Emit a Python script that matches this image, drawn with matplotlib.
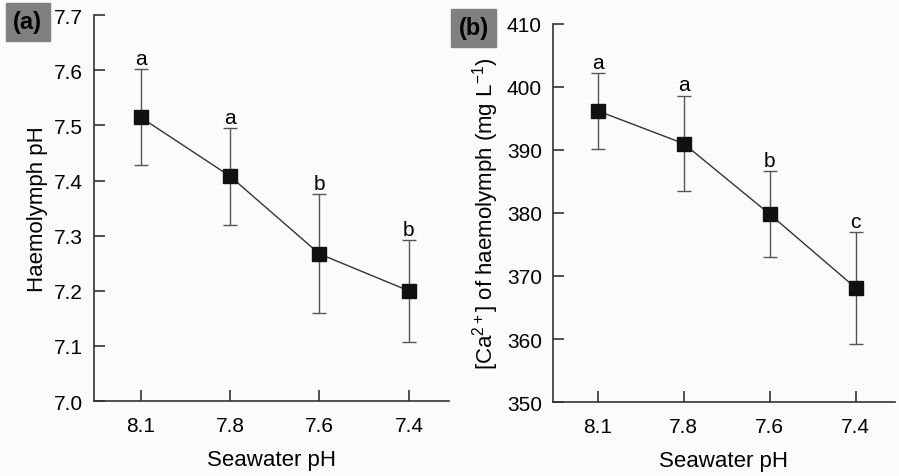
import matplotlib
matplotlib.use("Agg")
import matplotlib.pyplot as plt

plt.rcParams['font.family'] = ['Liberation Sans', 'DejaVu Sans']
plt.rcParams['mathtext.fontset'] = 'custom'
plt.rcParams['mathtext.rm'] = 'Liberation Sans'
plt.rcParams['mathtext.it'] = 'Liberation Sans'
plt.rcParams['mathtext.default'] = 'regular'

categories = ["8.1", "7.8", "7.6", "7.4"]

ph_mean = [7.515, 7.408, 7.267, 7.200]
ph_err = [0.087, 0.088, 0.108, 0.092]
ph_letters = ["a", "a", "b", "b"]

ca_mean = [396.2, 391.0, 379.8, 368.1]
ca_err = [6.0, 7.6, 6.8, 8.9]
ca_letters = ["a", "a", "b", "c"]

ph_ticks = [7.0, 7.1, 7.2, 7.3, 7.4, 7.5, 7.6, 7.7]
ca_ticks = [350, 360, 370, 380, 390, 400, 410]

bg = "#fbfbfb"
fig = plt.figure(figsize=(8.99, 4.77), dpi=100, facecolor=bg)

ax1 = fig.add_axes([0.1046, 0.157, 0.395, 0.809])
ax2 = fig.add_axes([0.615, 0.155, 0.38, 0.793])

def draw(ax, mean, err, letters, ticks, ylim, ylabel, offset):
    x = list(range(len(categories)))
    ax.set_facecolor(bg)
    ax.plot(x, mean, color="#333333", lw=1.0, zorder=2)
    ax.errorbar(x, mean, yerr=err, fmt="none", ecolor="#555555",
                elinewidth=1.0, capsize=4.7, capthick=1.0, zorder=1)
    ax.plot(x, mean, ls="none", marker="s", ms=10, color="#111111", zorder=3)
    for xi, m, e, l in zip(x, mean, err, letters):
        ax.text(xi, m + e + offset, l, ha="center", va="bottom", fontsize=15)
    ax.set_xticks(x)
    ax.set_xticklabels(categories)
    ax.set_xlim(-0.52, 3.45)
    ax.set_ylim(*ylim)
    ax.set_yticks(ticks)
    ax.set_xlabel("Seawater pH", fontsize=16, labelpad=10)
    ax.set_ylabel(ylabel, fontsize=16, labelpad=4)
    for s in ["top", "right"]:
        ax.spines[s].set_visible(False)
    for s in ["left", "bottom"]:
        ax.spines[s].set_color("#333333")
        ax.spines[s].set_linewidth(1.2)
    ax.tick_params(direction="in", length=8, width=1.2, color="#333333",
                   labelsize=15, pad=8)
    ax.tick_params(axis="x", pad=11)

draw(ax1, ph_mean, ph_err, ph_letters, ph_ticks, (7.0, 7.7),
     "Haemolymph pH", 0.002)
ax1.set_yticklabels([f"{t:.1f}" for t in ph_ticks])
draw(ax2, ca_mean, ca_err, ca_letters, ca_ticks, (350, 410),
     "[Ca$^{2+}$] of haemolymph (mg L$^{-1}$)", 0.2)

fig.text(0.031, 0.952, "(a)", fontsize=17, fontweight="bold", ha="center", va="center",
         bbox=dict(boxstyle="square,pad=0.32", facecolor="#808080", edgecolor="#808080"))
fig.text(0.527, 0.940, "(b)", fontsize=17, fontweight="bold", ha="center", va="center",
         bbox=dict(boxstyle="square,pad=0.32", facecolor="#808080", edgecolor="#808080"))

fig.savefig("out.png", dpi=100, facecolor=bg)
